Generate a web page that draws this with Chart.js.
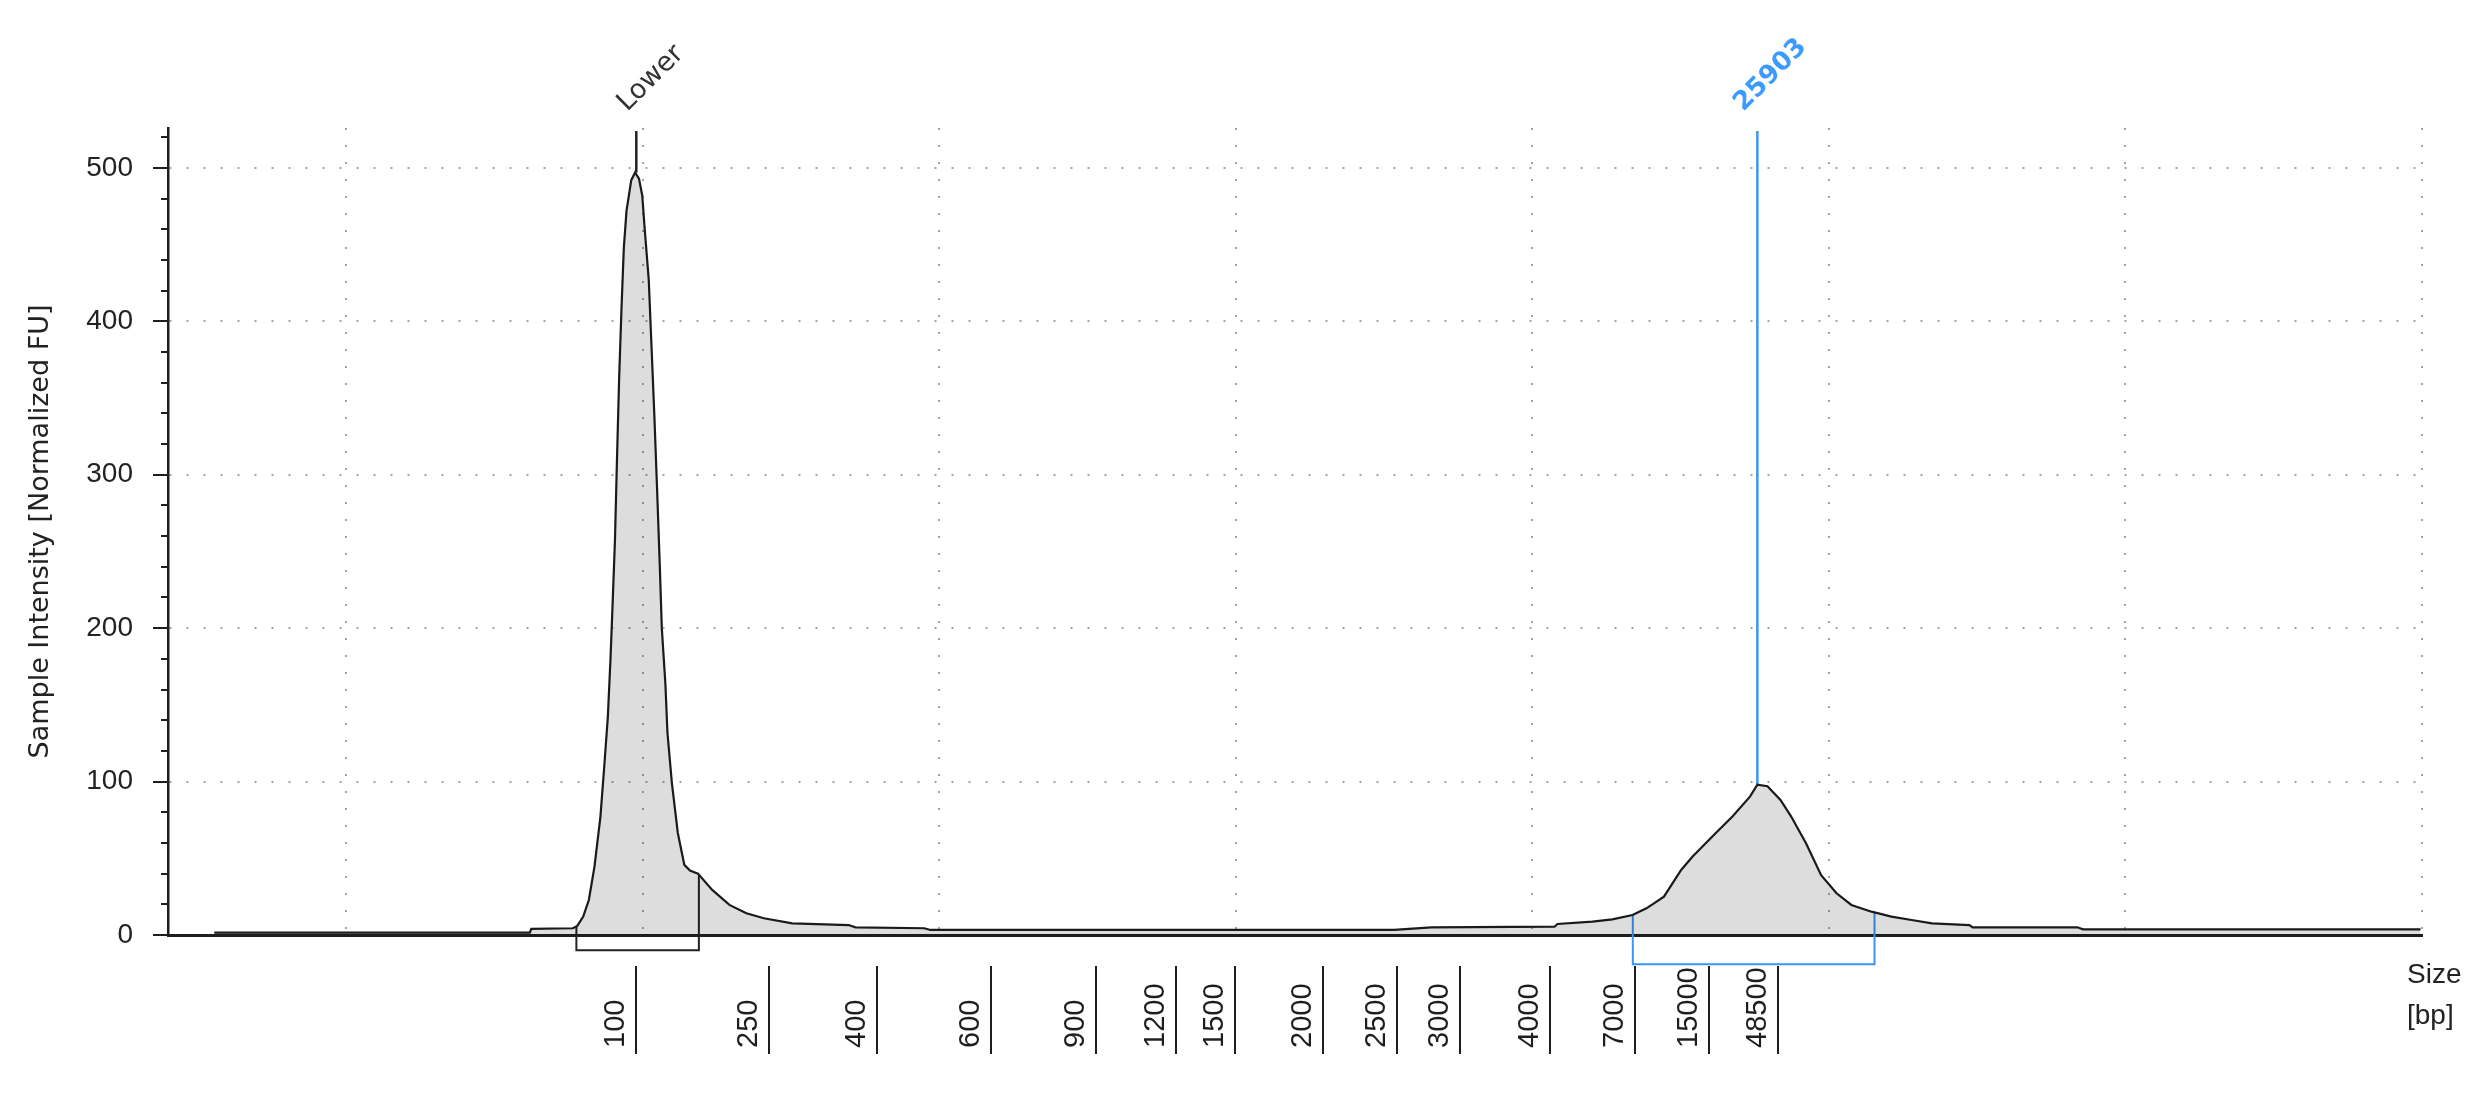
<!DOCTYPE html>
<html>
<head>
<meta charset="utf-8">
<script src="https://cdn.jsdelivr.net/npm/chart.js@4.4.0/dist/chart.umd.min.js"></script>
<style>
  html, body { margin: 0; padding: 0; background: #fff; }
  #wrap { width: 2489px; height: 1104px; }
</style>
</head>
<body>
<div id="wrap"><canvas id="trace" width="2489" height="1104"></canvas></div>
<script>
// electropherogram trace: run position (arbitrary units) and intensity
const runPos = [15.56, 23.0, 26.2, 26.25, 27.65, 27.8, 28.0, 28.19, 28.38, 28.58, 28.71, 28.83, 28.92, 28.99,
  29.07, 29.14, 29.21, 29.29, 29.37, 29.46, 29.62, 29.75, 29.88, 29.99, 30.07, 30.21, 30.30, 30.40, 30.49,
  30.58, 30.65, 30.77, 30.84, 30.99, 31.19, 31.41, 31.6, 31.87, 32.35, 32.93, 33.50, 34.09, 35.05, 36.95,
  37.18, 39.5, 39.71, 55.34, 56.6, 60.75, 60.85, 62.03, 62.70, 63.38, 63.85, 64.44, 65.02, 65.40, 66.18,
  66.75, 67.34, 67.59, 67.93, 68.37, 68.73, 69.23, 69.74, 70.26, 70.76, 71.44, 72.11, 72.79, 73.48, 74.74,
  74.85, 78.38, 78.57, 89.95];
const intensity = [1.5, 1.5, 1.5, 4, 4.4, 5.9, 12, 22.8, 44.6, 77, 110, 142, 180, 215,
  257, 311, 362, 408, 448, 472, 492, 497, 493, 482, 461, 427, 385, 338, 291,
  242, 200, 164, 132, 99, 66.5, 45.7, 42, 40, 29.4, 19.6, 14.2, 10.9, 7.6, 6.5,
  5.0, 4.4, 3.3, 3.3, 5.0, 5.4, 7.2, 8.7, 10.2, 13, 17.4, 25, 42.4, 51, 66.3,
  77.2, 90.2, 98, 97, 88, 77.2, 59.8, 39, 27.2, 19.6, 15.2, 12, 9.8, 7.6, 6.5,
  5.0, 5.0, 3.7, 3.7];

// ladder bands shown under the axis
const ladderPos = [29.79, 34.28, 37.92, 41.75, 45.30, 48.0, 49.99, 52.96, 55.45, 57.58, 60.61, 63.48, 65.97, 68.27];
const ladderSize = ['100', '250', '400', '600', '900', '1200', '1500', '2000', '2500', '3000', '4000', '7000', '15000', '48500'];

// called peaks
const peakPos = [29.79, 67.59];
const peakHeight = [497, 98];
const peakName = ['Lower', '25903'];

// integration regions
const regionFrom = [27.77, 63.39];
const regionTo = [31.90, 71.54];

const yTop = 526;
const markerColor = ['#222222', '#3d94f2'];
const labelColor = ['#333333', '#3c9bff'];
const regionDrop = [-10, -19];

function valueAt(p) {
  for (let i = 1; i < runPos.length; i++) {
    if (p <= runPos[i]) {
      const t = (p - runPos[i - 1]) / (runPos[i] - runPos[i - 1]);
      return intensity[i - 1] + t * (intensity[i] - intensity[i - 1]);
    }
  }
  return intensity[intensity.length - 1];
}

const traceData = runPos.map((p, i) => ({ x: p, y: intensity[i] }));

const markerSets = peakPos.map((p, i) => ({
  data: [{ x: p, y: peakHeight[i] }, { x: p, y: yTop - 2 }],
  borderColor: markerColor[i],
  borderWidth: 2.5,
  pointRadius: 0,
  fill: false
}));

const regionSets = regionFrom.map((a, i) => ({
  data: [
    { x: a, y: valueAt(a) },
    { x: a, y: regionDrop[i] },
    { x: regionTo[i], y: regionDrop[i] },
    { x: regionTo[i], y: valueAt(regionTo[i]) }
  ],
  borderColor: markerColor[i],
  borderWidth: 2,
  pointRadius: 0,
  fill: false,
  clip: false
}));

const overlay = {
  id: 'overlay',
  afterDraw(chart) {
    const { ctx, chartArea, scales: { x } } = chart;
    ctx.save();
    ctx.strokeStyle = '#1e1e1e';
    ctx.fillStyle = '#1e1e1e';
    ctx.lineWidth = 2;
    ctx.font = '29px "Liberation Sans"';
    ladderPos.forEach((p, i) => {
      const px = Math.round(x.getPixelForValue(p));
      ctx.beginPath();
      ctx.moveTo(px, chartArea.bottom + 31);
      ctx.lineTo(px, chartArea.bottom + 119);
      ctx.stroke();
      ctx.save();
      ctx.translate(px - 12, chartArea.bottom + 113);
      ctx.rotate(-Math.PI / 2);
      ctx.textAlign = 'left';
      ctx.textBaseline = 'alphabetic';
      ctx.fillText(ladderSize[i], 0, 0);
      ctx.restore();
    });

    peakPos.forEach((p, i) => {
      const px = x.getPixelForValue(p);
      ctx.save();
      ctx.translate(px - (i === 0 ? 9 : 14), chartArea.top - 16);
      ctx.rotate(-Math.PI / 4);
      ctx.font = i === 0 ? '27px "DejaVu Sans"' : 'bold 26px "DejaVu Sans"';
      ctx.fillStyle = labelColor[i];
      ctx.textAlign = 'left';
      ctx.fillText(peakName[i], 0, 0);
      ctx.restore();
    });

    ctx.font = '28px "Liberation Sans"';
    ctx.fillStyle = '#222';
    ctx.textAlign = 'left';
    ctx.fillText('Size', chartArea.right - 15, chartArea.bottom + 48);
    ctx.fillText('[bp]', chartArea.right - 15, chartArea.bottom + 89);
    ctx.restore();
  }
};

new Chart(document.getElementById('trace'), {
  type: 'line',
  data: {
    datasets: [{
      data: traceData,
      borderColor: '#1a1a1a',
      borderWidth: 2.2,
      backgroundColor: 'rgba(0,0,0,0.135)',
      fill: 'origin',
      pointRadius: 0,
      tension: 0
    }, ...markerSets, ...regionSets]
  },
  options: {
    responsive: false,
    animation: false,
    devicePixelRatio: 1,
    layout: { padding: { top: 128, right: 67, left: 0, bottom: 0 } },
    plugins: { legend: { display: false }, tooltip: { enabled: false } },
    scales: {
      x: {
        type: 'linear',
        min: 14,
        max: 90,
        afterFit: s => { s.height = 169; },
        ticks: { display: false, stepSize: 10, includeBounds: false, autoSkip: false },
        grid: { drawTicks: false, color: '#a3a3a3', lineWidth: 2 },
        border: { color: '#1e1e1e', width: 3, dash: [2, 15] }
      },
      y: {
        min: 0,
        max: yTop,
        afterFit: s => { s.width = 168; },
        ticks: {
          stepSize: 20,
          includeBounds: false,
          autoSkip: false,
          padding: 20,
          color: '#222',
          font: { family: 'Liberation Sans', size: 28 },
          callback: v => (v % 100 === 0 ? v : '')
        },
        grid: {
          tickLength: 15,
          lineWidth: 2,
          tickWidth: 2,
          tickColor: '#1e1e1e',
          color: c => (c.tick && c.tick.value > 0 && c.tick.value % 100 === 0 ? '#a3a3a3' : 'rgba(0,0,0,0)'),
          tickBorderDash: c => (c.tick && c.tick.value % 100 === 0 ? [] : [0, 8, 7, 100])
        },
        border: { color: '#1e1e1e', width: 2.5, dash: [2, 15] },
        title: {
          display: true,
          text: 'Sample Intensity [Normalized FU]',
          color: '#222',
          font: { family: 'DejaVu Sans', size: 27 },
          padding: { top: 25, bottom: 0 }
        }
      }
    }
  },
  plugins: [overlay]
});
</script>
</body>
</html>
